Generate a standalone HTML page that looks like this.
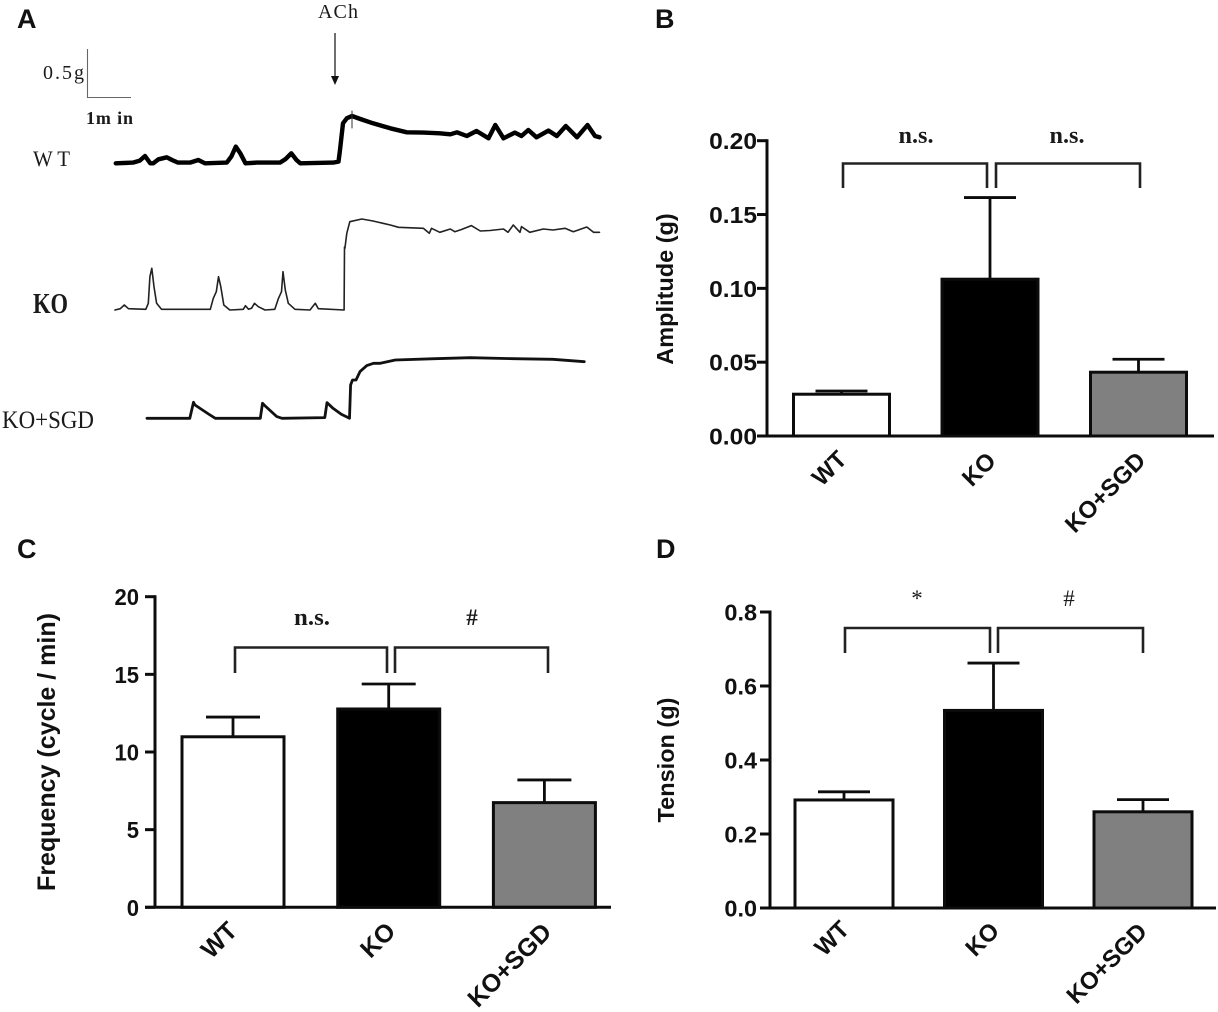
<!DOCTYPE html>
<html lang="en">
<head>
<meta charset="utf-8">
<title>Contractility traces and bar charts</title>
<style>
html,body{margin:0;padding:0;background:#fff;}
svg{display:block;filter:blur(0.35px);}
.sans{font-family:"Liberation Sans",Arial,sans-serif;font-weight:bold;fill:#111;}
.serif{font-family:"Liberation Serif","Times New Roman",serif;fill:#1a1a1a;}
.bracket{fill:none;stroke:#222;stroke-width:2.6;}
</style>
</head>
<body>
<svg id="figure" xmlns="http://www.w3.org/2000/svg" width="1218" height="1012" viewBox="0 0 1218 1012">
  <rect x="0" y="0" width="1218" height="1012" fill="#fff"/>

  <text class="sans" x="17" y="28" font-size="27">A</text>
  <text class="sans" x="655" y="28" font-size="27">B</text>
  <text class="sans" x="17" y="558" font-size="27">C</text>
  <text class="sans" x="656" y="558" font-size="27">D</text>

  <g id="panel-a">
    <text class="serif" x="318" y="18" font-size="20" textLength="40" lengthAdjust="spacing">ACh</text>
    <line x1="335" y1="33" x2="335" y2="78" stroke="#222" stroke-width="1.3"/>
    <polygon points="331,76 339,76 335,85" fill="#111"/>
    <path d="M87.5 49V97.5H131" fill="none" stroke="#666" stroke-width="1.1"/>
    <text class="serif" x="43" y="79" font-size="20" textLength="41" lengthAdjust="spacing">0.5g</text>
    <text class="serif" x="86" y="124" font-size="18" font-weight="bold" textLength="47" lengthAdjust="spacing">1m in</text>
    <text class="serif" x="33" y="166" font-size="22" textLength="37" lengthAdjust="spacingAndGlyphs">W T</text>
    <text class="serif" x="33" y="313" font-size="28" font-weight="bold" textLength="35" lengthAdjust="spacingAndGlyphs">KO</text>
    <text class="serif" x="2" y="428" font-size="25" textLength="92" lengthAdjust="spacingAndGlyphs">KO+SGD</text>
  </g>

  <g id="panel-b">
    <text class="sans" transform="translate(673,289) rotate(-90)" text-anchor="middle" font-size="23.5">Amplitude (g)</text>
    <path class="bracket" d="M843 188V163.5H987V188"/>
    <path class="bracket" d="M996 188V163.5H1140V188"/>
    <text class="serif" x="916" y="143" text-anchor="middle" font-size="24" font-weight="bold" textLength="35" lengthAdjust="spacingAndGlyphs">n.s.</text>
    <text class="serif" x="1067" y="143" text-anchor="middle" font-size="24" font-weight="bold" textLength="35" lengthAdjust="spacingAndGlyphs">n.s.</text>
  </g>

  <g id="panel-c">
    <text class="sans" transform="translate(55,752) rotate(-90)" text-anchor="middle" font-size="25">Frequency (cycle / min)</text>
    <path class="bracket" d="M235 673V647.5H387V673"/>
    <path class="bracket" d="M395 673V647.5H548V673"/>
    <text class="serif" x="312" y="625" text-anchor="middle" font-size="24" font-weight="bold" textLength="36" lengthAdjust="spacingAndGlyphs">n.s.</text>
    <text class="serif" x="472" y="625" text-anchor="middle" font-size="23" font-weight="bold">#</text>
  </g>

  <g id="panel-d">
    <text class="sans" transform="translate(674,760) rotate(-90)" text-anchor="middle" font-size="23.5">Tension (g)</text>
    <path class="bracket" d="M845 653V628H990V653"/>
    <path class="bracket" d="M998 653V628H1143V653"/>
    <text class="serif" x="917" y="606" text-anchor="middle" font-size="23">*</text>
    <text class="serif" x="1069" y="606" text-anchor="middle" font-size="23">#</text>
  </g>
</svg>

<script>
// Bar chart data
const categories = ['WT', 'KO', 'KO+SGD'];
const amplitudeMeans = [0.0283, 0.1062, 0.0432];
const amplitudeErrors = [0.0022, 0.0553, 0.0088];
const amplitudeTicks = ['0.00', '0.05', '0.10', '0.15', '0.20'];
const frequencyMeans = [10.98, 12.77, 6.74];
const frequencyErrors = [1.27, 1.61, 1.46];
const frequencyTicks = ['0', '5', '10', '15', '20'];
const tensionMeans = [0.292, 0.534, 0.26];
const tensionErrors = [0.022, 0.128, 0.033];
const tensionTicks = ['0.0', '0.2', '0.4', '0.6', '0.8'];
const barFills = ['#ffffff', '#000000', '#808080'];

// Trace data: time in seconds, tension in mg above resting level
const wtTime = [1,24,33,40,47,51,58,69,76,84,100,111,120,149,155,161,167,174,189,220,227,235,242,247,291,298,300,304,309,316,327,344,367,389,411,433,447,456,469,482,498,507,518,533,542,551,562,578,589,601,616,630,640,646];
const wtTension = [0,7,27,73,0,0,40,60,33,7,7,33,0,7,67,167,100,0,7,7,40,100,33,0,7,17,133,400,450,473,443,400,350,310,307,300,290,310,273,323,250,383,250,307,273,333,260,327,273,373,260,383,273,260];
const wtSpikeTime = [316,316];
const wtSpikeTension = [353,523];
const koTime = [0,7,12.4,18,41,44.4,46.6,49,52,55.5,62,89,127,131,135,138,141,145,153,171,174,178,182,186,191,200,213,218,222,224,227,231,240,260,267,271,305.5,306,306.5,309,313,329,344,367,378,411,419,422,433,447,453,462,475,487,500,518,524,531,540,542,553,571,584,600,611,629,638,646];
const koTension = [-10,3,40,3,-3,57,323,407,223,57,-3,-3,-3,107,173,323,223,40,-10,-3,33,-3,7,57,23,-10,-3,107,173,373,190,57,-3,-10,57,3,-10,620,607,757,873,900,880,840,817,807,757,807,767,800,773,795,834,780,785,800,767,840,767,824,767,800,790,807,773,820,767,767];
const sgdTime = [0,57,62,64,82,91,151,154,157,173,180,237,240,248,259,270,271.5,274,278.6,284,293,302,311,331,384,431,489,541,583];
const sgdTension = [0,0,160,133,43,0,0,150,127,17,0,7,157,100,40,0,333,383,383,467,527,550,550,583,596,606,596,590,566];

const NS = 'http://www.w3.org/2000/svg';

function make(parent, tag, props, text) {
  const el = document.createElementNS(NS, tag);
  for (const k in props) el.setAttribute(k, props[k]);
  if (text !== undefined) el.textContent = text;
  parent.appendChild(el);
  return el;
}

function drawTrace(parent, originX, originY, times, tension, width, color) {
  const timeAxis = t => originX + t * 0.75;
  const tensionAxis = v => originY - v * 0.1;
  const d = times.map((t, i) => (i ? 'L' : 'M') + timeAxis(t).toFixed(1) + ' ' + tensionAxis(tension[i]).toFixed(1)).join('');
  return make(parent, 'path', {
    d: d, fill: 'none', stroke: color, 'stroke-width': width,
    'stroke-linejoin': 'round', 'stroke-linecap': 'round'
  });
}

function drawBarChart(o) {
  const g = document.getElementById(o.id);
  const yAxis = v => o.y0 - (v / o.yMax) * (o.y0 - o.y1);
  const xAxis = i => o.firstCenter + i * o.step;
  const dark = '#0c0c0c';

  o.means.forEach((m, i) => {
    const top = yAxis(m);
    const errTop = yAxis(m + o.errors[i]);
    const stem = make(g, 'line', { x1: xAxis(i), x2: xAxis(i), y1: top, y2: errTop, stroke: dark, 'stroke-width': 2.8 });
    
    
    const cap = make(g, 'line', { x1: xAxis(i) - o.capHalf, x2: xAxis(i) + o.capHalf, y1: errTop, y2: errTop, stroke: dark, 'stroke-width': 2.8 });
    
    
    const bar = make(g, 'rect', {
      x: xAxis(i) - o.barWidth / 2, y: top, width: o.barWidth, height: o.y0 - top,
      fill: barFills[i], stroke: dark, 'stroke-width': 3
    });
    
    
    const lab = make(g, 'text', {
      class: 'sans', 'text-anchor': 'middle', 'font-size': o.catSize,
      transform: 'translate(' + (xAxis(i) + o.catDx[i]) + ',' + o.catY[i] + ') rotate(-45)'
    }, categories[i]);
    
    
  });

  const yLine = make(g, 'line', { x1: o.axisX, x2: o.axisX, y1: o.y1 - 1.5, y2: o.y0, stroke: dark, 'stroke-width': 3 });
  
  
  const xLine = make(g, 'line', { x1: o.axisX - 10, x2: o.axisEnd, y1: o.y0, y2: o.y0, stroke: dark, 'stroke-width': 3 });
  
  

  o.ticks.forEach((label, i) => {
    const value = parseFloat(label);
    const y = yAxis(value);
    const tick = make(g, 'line', { x1: o.axisX - 10, x2: o.axisX, y1: y, y2: y, stroke: dark, 'stroke-width': 3 });
    
    
    const txt = make(g, 'text', {
      class: 'sans', 'text-anchor': 'end', 'font-size': o.tickSize,
      transform: 'translate(' + (o.axisX - o.tickGap) + ',' + (y + 8.5) + ') scale(' + o.tickStretch + ',1)'
    }, label);
    
    
  });
}

const panelA = document.getElementById('panel-a');
const wtLine = drawTrace(panelA, 115, 163.3, wtTime, wtTension, 4.4, '#000');


const wtSpike = drawTrace(panelA, 115, 163.3, wtSpikeTime, wtSpikeTension, 1, '#333');


const koLine = drawTrace(panelA, 115, 309, koTime, koTension, 1.6, '#222');


const sgdLine = drawTrace(panelA, 147, 418.3, sgdTime, sgdTension, 2.8, '#111');



drawBarChart({
  id: 'panel-b', means: amplitudeMeans, errors: amplitudeErrors, ticks: amplitudeTicks,
  yMax: 0.2, y0: 436, y1: 140.7, axisX: 767, axisEnd: 1214,
  firstCenter: 841.5, step: 148.5, barWidth: 96, capHalf: 26,
  tickSize: 23, tickStretch: 1.07, tickGap: 10,
  catSize: 24, catDx: [-6.5, -5.4, -27.5], catY: [474, 475, 498]
});
drawBarChart({
  id: 'panel-c', means: frequencyMeans, errors: frequencyErrors, ticks: frequencyTicks,
  yMax: 20, y0: 907.3, y1: 596.7, axisX: 155, axisEnd: 611,
  firstCenter: 233, step: 155.7, barWidth: 102, capHalf: 27,
  tickSize: 23, tickStretch: 0.96, tickGap: 16,
  catSize: 25, catDx: [-8, -5, -29], catY: [946, 946, 971]
});
drawBarChart({
  id: 'panel-d', means: tensionMeans, errors: tensionErrors, ticks: tensionTicks,
  yMax: 0.8, y0: 908, y1: 612, axisX: 770, axisEnd: 1216,
  firstCenter: 844, step: 149.5, barWidth: 98, capHalf: 26,
  tickSize: 23, tickStretch: 1.02, tickGap: 13,
  catSize: 24, catDx: [-6.4, -5.5, -30.5], catY: [944, 945, 969]
});
</script>
</body>
</html>
